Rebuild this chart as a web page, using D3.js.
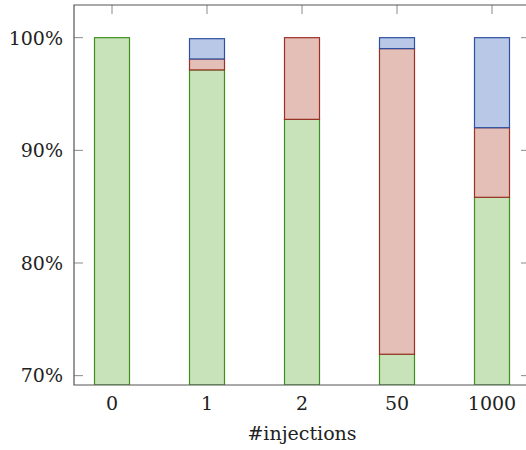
<!DOCTYPE html>
<html>
<head>
<meta charset="utf-8">
<script src="https://cdn.jsdelivr.net/npm/d3@7"></script>
<style>
  html, body { margin: 0; padding: 0; background: #fff; overflow: hidden; }
  svg { display: block; }
  text { font-family: "DejaVu Serif", serif; fill: #222; }
</style>
</head>
<body>
<div id="chart"></div>
<script>
// categories and stacked values (percent)
var categories = ["0", "1", "2", "50", "1000"];
var greenVals = [100, 97.14, 92.75, 71.9, 85.83];
var redVals = [0, 0.97, 7.25, 27.13, 6.18];
var blueVals = [0, 1.8, 0, 0.97, 7.99];
var yTicks = [70, 80, 90, 100];

var svgWidth = 526;
var svgHeight = 450;

// the right edge of the plot box lies just past the picture
var margin = { top: 5, bottom: 65, left: 74, right: -4 };
var width = svgWidth - margin.left - margin.right;
var height = svgHeight - margin.top - margin.bottom;

var svg = d3.select("#chart")
    .append("svg")
    .attr("width", svgWidth)
    .attr("height", svgHeight);

var chartGroup = svg.append("g")
    .attr("transform", `translate(${margin.left}, ${margin.top})`);

var xScale = d3.scalePoint()
    .domain(categories)
    .range([0, width])
    .padding(0.4);

var yMin = 69.17;
var yScale = d3.scaleLinear()
    .domain([yMin, 102.9])
    .range([height, 0]);

var barWidth = 35;

// stack the series
var rows = categories.map(function (c, i) {
    return { cat: c, green: greenVals[i], red: redVals[i], blue: blueVals[i] };
});
var series = d3.stack().keys(["green", "red", "blue"])(rows);

var fills = { green: "#c8e3b9", red: "#e4bfb7", blue: "#b8c8e6" };
var strokes = { green: "#3f8f1f", red: "#9b3024", blue: "#2f50a0" };

chartGroup.append("clipPath")
    .attr("id", "plotclip")
    .append("rect")
    .attr("width", width)
    .attr("height", height);

var barsGroup = chartGroup.append("g").attr("clip-path", "url(#plotclip)");

series.forEach(function (s) {
    barsGroup.selectAll(".bar-" + s.key)
        .data(s.filter(function (d) { return d[1] - d[0] > 0; }))
        .enter()
        .append("rect")
        .attr("x", d => xScale(d.data.cat) - barWidth / 2)
        .attr("y", d => yScale(d[1]))
        .attr("width", barWidth)
        .attr("height", d => yScale(Math.max(d[0], yMin)) - yScale(d[1]))
        .attr("fill", fills[s.key])
        .attr("stroke", strokes[s.key])
        .attr("stroke-width", 1.2);
});

// ticks on all four sides, pointing inward
var tickLen = 9;
var ticks = chartGroup.append("g")
    .attr("stroke", "#8a8a8a")
    .attr("stroke-width", 1);

ticks.selectAll(".ytl").data(yTicks).enter().append("line")
    .attr("x1", 0).attr("x2", tickLen)
    .attr("y1", d => yScale(d)).attr("y2", d => yScale(d));
ticks.selectAll(".ytr").data(yTicks).enter().append("line")
    .attr("x1", width).attr("x2", width - tickLen)
    .attr("y1", d => yScale(d)).attr("y2", d => yScale(d));
ticks.selectAll(".xtt").data(categories).enter().append("line")
    .attr("x1", d => xScale(d)).attr("x2", d => xScale(d))
    .attr("y1", 0).attr("y2", tickLen);

// frame: top, left and bottom (right side falls outside the picture)
chartGroup.append("path")
    .attr("d", `M${width},0H0V${height}H${width}`)
    .attr("fill", "none")
    .attr("stroke", "#555")
    .attr("stroke-width", 1.2);

// tick labels
chartGroup.selectAll(".ylabel").data(yTicks).enter().append("text")
    .attr("x", -11)
    .attr("y", d => yScale(d))
    .attr("dy", "0.36em")
    .attr("text-anchor", "end")
    .style("font-size", "19px")
    .text(d => d + "%");

chartGroup.selectAll(".xlabel").data(categories).enter().append("text")
    .attr("x", d => xScale(d))
    .attr("y", height + 25)
    .attr("text-anchor", "middle")
    .style("font-size", "19px")
    .text(d => d);

// axis title
chartGroup.append("text")
    .attr("x", width / 2)
    .attr("y", height + 55)
    .attr("text-anchor", "middle")
    .style("font-size", "19px")
    .text("#injections");
</script>
</body>
</html>
